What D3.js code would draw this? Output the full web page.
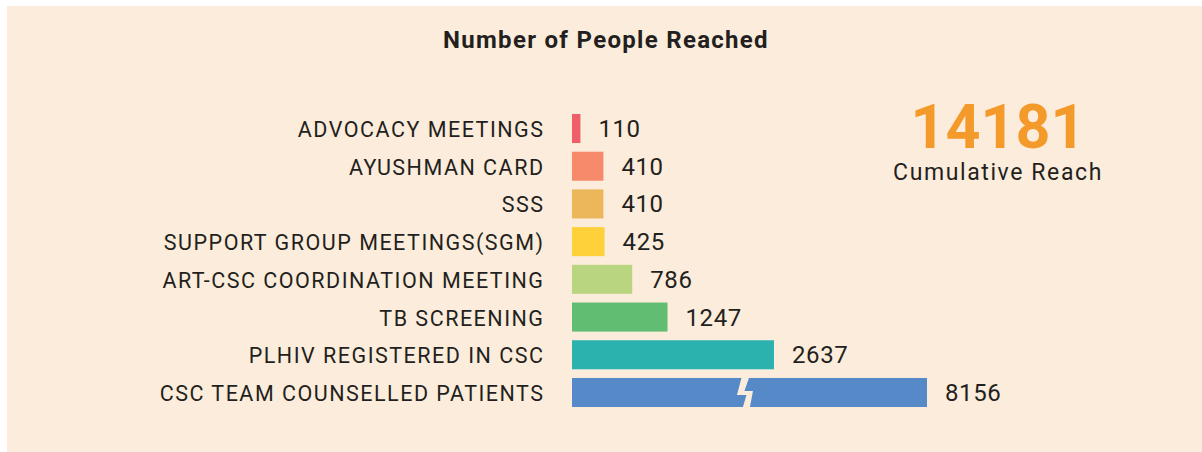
<!DOCTYPE html>
<html>
<head>
<meta charset="utf-8">
<script src="https://cdn.jsdelivr.net/npm/d3@7"></script>
<style>
  html, body { margin: 0; padding: 0; background: #fff; }
  svg { display: block; font-family: Roboto, "Noto Sans", sans-serif; }
</style>
</head>
<body>
<svg id="chart"></svg>
<script>
// chart data
const categories = [
  "ADVOCACY MEETINGS",
  "AYUSHMAN CARD",
  "SSS",
  "SUPPORT GROUP MEETINGS(SGM)",
  "ART-CSC COORDINATION MEETING",
  "TB SCREENING",
  "PLHIV REGISTERED IN CSC",
  "CSC TEAM COUNSELLED PATIENTS"
];
const values = [110, 410, 410, 425, 786, 1247, 2637, 8156];
const colors = ["#ef5f67", "#f68a6a", "#ebb75a", "#fed13b", "#bad580", "#61bd72", "#2cb2ae", "#5689c8"];
const brokenIndex = 7;          // the bar drawn with an axis break
const totalReach = 14181;
const totalLabel = "Cumulative Reach";
const title = "Number of People Reached";

const width = 1202;
const height = 452;

const svg = d3.select("#chart")
  .attr("width", width)
  .attr("height", height);

// background panel
svg.append("rect")
  .attr("x", 7)
  .attr("y", 6)
  .attr("width", width - 7)
  .attr("height", height - 6)
  .attr("fill", "#fcecdb");

// title
svg.append("text")
  .attr("x", 606)
  .attr("y", 48)
  .attr("text-anchor", "middle")
  .attr("font-weight", "bold")
  .attr("font-size", "24px")
  .attr("letter-spacing", "1.3px")
  .attr("fill", "#231f20")
  .text(title);

// scales: the value axis is broken between the 2nd largest and largest value
const x0 = 572;
const xScale = d3.scaleLinear()
  .domain([0, values[6], values[7]])
  .range([x0, x0 + 202, x0 + 355]);

const yScale = d3.scaleBand()
  .domain(categories)
  .range([109.65, 411.35])
  .paddingInner(0.23)
  .paddingOuter(0.115);

// category labels
svg.selectAll(".cat-label")
  .data(categories)
  .enter()
  .append("text")
  .attr("class", "cat-label")
  .attr("x", 544.5)
  .attr("y", d => yScale(d) + yScale.bandwidth() / 2 + 8.5)
  .attr("text-anchor", "end")
  .attr("font-size", "21.5px")
  .attr("letter-spacing", "1.5px")
  .attr("fill", "#231f20")
  .text(d => d);

// bars
svg.selectAll(".bar")
  .data(values)
  .enter()
  .append("rect")
  .attr("class", "bar")
  .attr("x", xScale(0))
  .attr("y", (_, i) => yScale(categories[i]))
  .attr("width", d => xScale(d) - xScale(0))
  .attr("height", yScale.bandwidth())
  .attr("fill", (_, i) => colors[i]);

// break mark on the truncated bar
const by = yScale(categories[brokenIndex]);
const bh = yScale.bandwidth();
const bx = xScale(0) + (xScale(values[brokenIndex]) - xScale(0)) * 0.49;
const breakPts = [
  [-4.5, 0], [3, 0], [-1.5, 13], [7, 13],
  [4, bh], [-3, bh], [0.5, 17], [-9, 17]
];
svg.append("path")
  .attr("d", d3.line()(breakPts.map(p => [bx + p[0], by + p[1]])) + "Z")
  .attr("fill", "#fcecdb");

// value labels
svg.selectAll(".value-label")
  .data(values)
  .enter()
  .append("text")
  .attr("class", "value-label")
  .attr("x", d => xScale(d) + 18)
  .attr("y", (_, i) => yScale(categories[i]) + yScale.bandwidth() / 2 + 8.5)
  .attr("font-size", "24px")
  .attr("letter-spacing", "0.6px")
  .attr("fill", "#231f20")
  .text(d => d);

// cumulative reach
svg.append("text")
  .attr("x", 998)
  .attr("y", 148)
  .attr("text-anchor", "middle")
  .attr("font-weight", "bold")
  .attr("font-size", "61px")
  .attr("fill", "#f39a2a")
  .text(totalReach);

svg.append("text")
  .attr("x", 998)
  .attr("y", 180)
  .attr("text-anchor", "middle")
  .attr("font-size", "23px")
  .attr("letter-spacing", "1.6px")
  .attr("fill", "#231f20")
  .text(totalLabel);
</script>
</body>
</html>
